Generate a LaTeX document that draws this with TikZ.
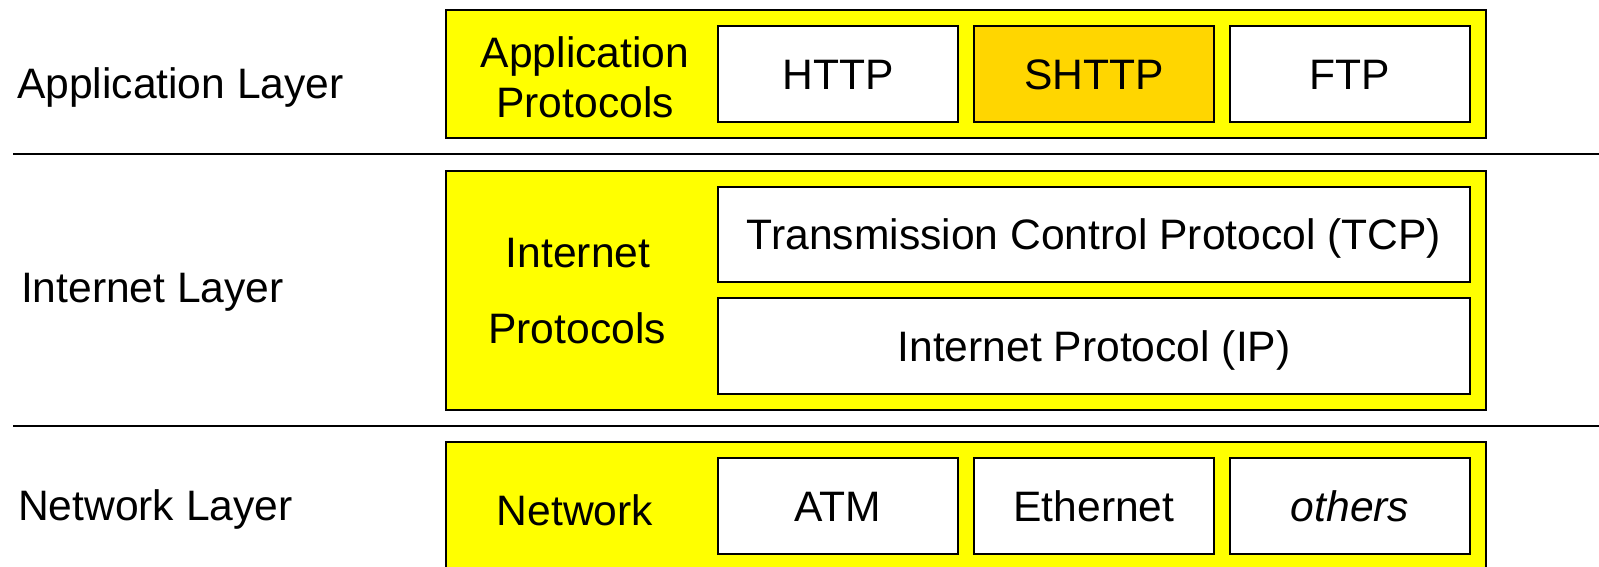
\documentclass[tikz,border=0pt]{standalone}
\usepackage{fontspec}
\setmainfont{Liberation Sans}
\definecolor{layeryellow}{RGB}{255,255,0}
\definecolor{gold}{RGB}{255,214,0}
\tikzset{
  every node/.style={font=\fontsize{42.6}{50}\selectfont, inner sep=0pt, outer sep=0pt},
  layerbox/.style={draw=black, line width=2.5pt, fill=layeryellow, rectangle},
  protobox/.style={draw=black, line width=2pt, fill=white, rectangle,
    text height=30pt, text depth=0pt},
  secure/.style={protobox, fill=gold},
  layerlabel/.style={anchor=base west},
  grouplabel/.style={anchor=base},
  separator/.style={draw=black, line width=2pt},
}
\begin{document}
\begin{tikzpicture}[x=1pt, y=-1pt]
  \useasboundingbox (0,0) rectangle (1599,566);
  \clip (0,0) rectangle (1599,566);

  % separators between the layers
  \coordinate (s1a) at (13,154);  \coordinate (s1b) at (1599,154);
  \coordinate (s2a) at (13,426);  \coordinate (s2b) at (1599,426);
  \draw[separator] (s1a) -- (s1b);
  \draw[separator] (s2a) -- (s2b);

  % layer names
  \node[layerlabel] (lapp) at (17,98) {Application Layer};
  \node[layerlabel] (lint) at (21,302) {Internet Layer};
  \node[layerlabel] (lnet) at (18,520) {Network Layer};

  % application layer
  \node[layerbox, minimum width=1040pt, minimum height=128pt] (app) at (966,74) {};
  \node[grouplabel] (appl1) at (585,67) {Application};
  \node[grouplabel] (appl2) at (585,117) {Protocols};
  \node[protobox, minimum width=240pt, minimum height=96pt] (http) at (838,74) {HTTP};
  \node[secure, minimum width=240pt, minimum height=96pt] (shttp) at (1094,74) {SHTTP};
  \node[protobox, minimum width=240pt, minimum height=96pt] (ftp) at (1350,74) {FTP};

  % internet layer
  \node[layerbox, minimum width=1040pt, minimum height=239pt] (inet) at (966,290.5) {};
  \node[grouplabel] (inl1) at (578,267) {Internet};
  \node[grouplabel] (inl2) at (577,343) {Protocols};
  \node[protobox, minimum width=752pt, minimum height=95pt] (tcp) at (1094,234.5)
    {Transmission Control Protocol (TCP)};
  \node[protobox, minimum width=752pt, minimum height=96pt] (ip) at (1094,346)
    {Internet Protocol (IP)};

  % network layer
  \node[layerbox, minimum width=1040pt, minimum height=160pt] (net) at (966,522) {};
  \node[grouplabel] (netl) at (575,525) {Network};
  \node[protobox, minimum width=240pt, minimum height=96pt] (atm) at (838,506) {ATM};
  \node[protobox, minimum width=240pt, minimum height=96pt] (eth) at (1094,506) {Ethernet};
  \node[protobox, minimum width=240pt, minimum height=96pt] (oth) at (1350,506) {\itshape others};
\end{tikzpicture}
\end{document}
